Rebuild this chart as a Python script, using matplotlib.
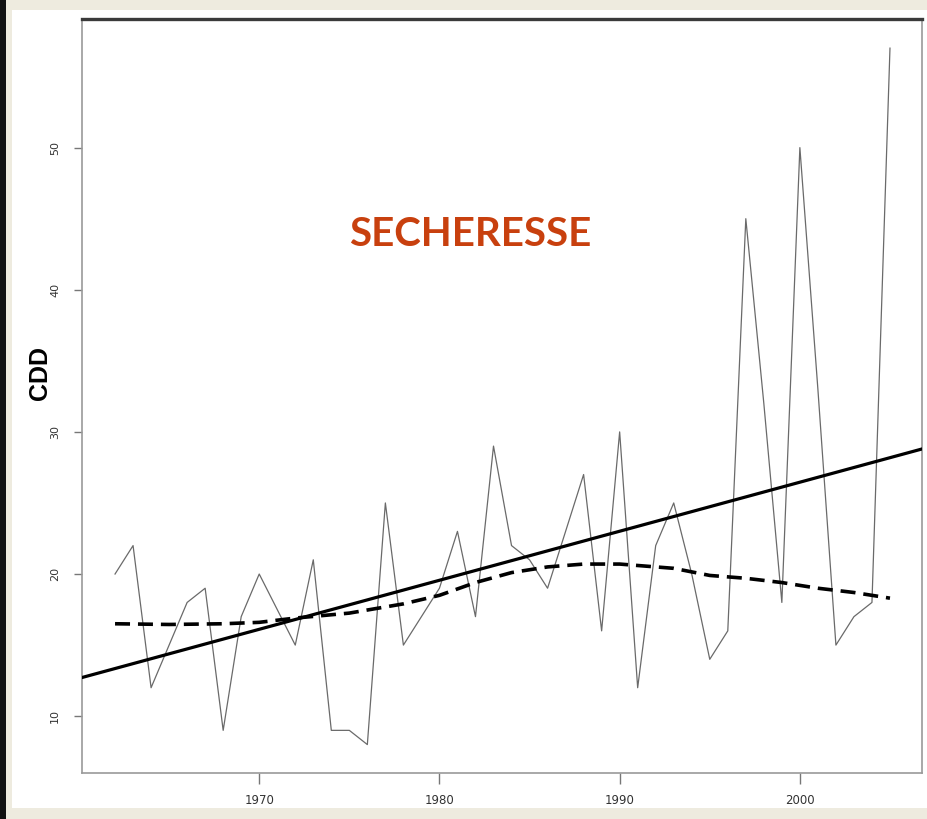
import numpy as np
import matplotlib
matplotlib.use("Agg")
import matplotlib.pyplot as plt
from matplotlib.patches import Rectangle

# Annual consecutive dry days (CDD)
years = list(range(1962, 2006))
cdd = [20, 22, 12, 15, 18, 19, 9, 17, 20, 17.5,
       15, 21, 9, 9, 8, 25, 15, 17, 19, 23,
       17, 29, 22, 21, 19, 23, 27, 16, 30, 12,
       22, 25, 20, 14, 16, 45, 32, 18, 50, 33,
       15, 17, 18, 57]

# Local smoother (dashed curve)
smooth_years = [1962, 1965, 1968, 1970, 1972, 1975, 1978, 1980, 1982, 1984,
                1986, 1988, 1990, 1992, 1993, 1995, 1997, 1999, 2001, 2003, 2005]
smooth_vals = [16.5, 16.45, 16.5, 16.6, 16.9, 17.25, 17.9, 18.5, 19.4, 20.1,
               20.5, 20.7, 20.7, 20.5, 20.4, 19.9, 19.7, 19.4, 19.0, 18.7, 18.3]

# Linear trend
trend_year0 = 1962
trend_value0 = 13.35
trend_slope = 0.345

x_ticks = [1970, 1980, 1990, 2000]
y_ticks = [10, 20, 30, 40, 50]

W, H = 928, 819
fig = plt.figure(figsize=(W / 100, H / 100), dpi=100)
fig.patch.set_facecolor("#eeebdf")

# White page with dark strip on the left
fig.add_artist(Rectangle((12 / W, (H - 808) / H), 1 - 12 / W, (808 - 10) / H,
                         transform=fig.transFigure, facecolor="white",
                         edgecolor="none", zorder=0))
fig.add_artist(Rectangle((0, 0), 6 / W, 1, transform=fig.transFigure,
                         facecolor="#111111", edgecolor="none", zorder=0))

left, right, top, bottom = 81.7, 921.7, 19, 773
ax = fig.add_axes([left / W, (H - bottom) / H, (right - left) / W, (bottom - top) / H])
ax.set_facecolor("white")

ax.plot(years, cdd, color="#6a6a6a", lw=0.9, zorder=2)
ax.axline((trend_year0, trend_value0), slope=trend_slope, color="black",
          lw=2.3, zorder=3)
ax.plot(smooth_years, smooth_vals, color="black", lw=2.6, zorder=3,
        dashes=(4.15, 2.2), dash_capstyle="butt")

ax.set_xlim(1960.15, 2006.76)
ax.set_ylim(6.0, 59.05)

ax.set_xticks(x_ticks)
ax.set_xticklabels([str(t) for t in x_ticks], family="Liberation Sans Narrow",
                   fontsize=8.5, color="#333333")
ax.set_yticks(y_ticks)
ax.set_yticklabels([str(t) for t in y_ticks], rotation=90, va="center",
                   family="Liberation Sans Narrow", fontsize=8, color="#333333")
ax.tick_params(axis="x", direction="out", length=8, width=1.0, color="#777777", pad=7)
ax.tick_params(axis="y", direction="out", length=5.5, width=1.0, color="#777777", pad=10)

for side in ("left", "bottom", "right"):
    ax.spines[side].set_color("#9a9a9a")
    ax.spines[side].set_linewidth(1.2)
ax.spines["top"].set_color("#3a3a3a")
ax.spines["top"].set_linewidth(2.4)

fig.text(40 / W, 1 - 373 / H, "CDD", rotation=90, ha="center", va="center",
         family="Liberation Sans", fontweight="bold", fontsize=18)

ax.text((470 - left) / (right - left), (bottom - 235) / (bottom - top), "SECHERESSE",
        transform=ax.transAxes, ha="center", va="center", family="Lato",
        fontweight="bold", fontsize=29, color="#c8400e")

fig.savefig("out.png", dpi=100, facecolor=fig.get_facecolor())
